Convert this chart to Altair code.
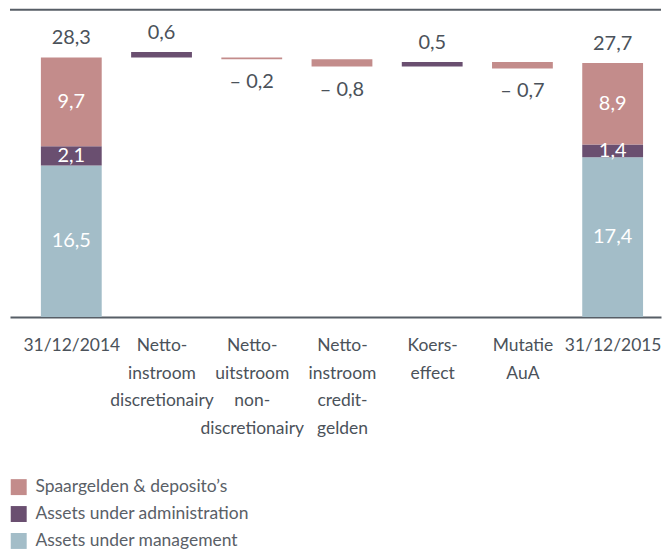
import json
import altair as alt
import pandas as pd

# ---- data ----
categories = [
    "31/12/2014",
    "Netto-\ninstroom\ndiscretionairy",
    "Netto-\nuitstroom\nnon-\ndiscretionairy",
    "Netto-\ninstroom\ncredit-\ngelden",
    "Koers-\neffect",
    "Mutatie\nAuA",
    "31/12/2015",
]
series = ["Spaargelden & deposito’s", "Assets under administration", "Assets under management"]
colors = ["#c38c8b", "#6a4f70", "#a3bdc8"]

start_2014 = [9.7, 2.1, 16.5]   # spaargelden, AuA, AuM
end_2015 = [8.9, 1.4, 17.4]
totals = [28.3, 27.7]
step_deltas = [0.6, -0.2, -0.8, 0.5, -0.7]
step_series = [1, 0, 0, 1, 0]
step_starts = [28.3, 28.3, 28.1, 27.3, 27.8]


def fmt(v):
    s = f"{abs(v):.1f}".replace(".", ",")
    return ("– " + s) if v < 0 else s


seg_rows = []
inner_rows = []
for idx, vals in ((0, start_2014), (6, end_2015)):
    lo = 0.0
    for si in (2, 1, 0):
        hi = lo + vals[si]
        seg_rows.append(dict(idx=idx, series=series[si], lo=lo, hi=hi))
        inner_rows.append(dict(idx=idx, mid=(lo + hi) / 2, text=fmt(vals[si])))
        lo = hi

above_rows = [dict(idx=0, y=totals[0], text=fmt(totals[0])),
              dict(idx=6, y=totals[1], text=fmt(totals[1]))]
below_rows = []
for k, (d, s, st) in enumerate(zip(step_deltas, step_series, step_starts)):
    seg_rows.append(dict(idx=k + 1, series=series[s], lo=st, hi=st + d))
    if d >= 0:
        above_rows.append(dict(idx=k + 1, y=st + d, text=fmt(d)))
    else:
        below_rows.append(dict(idx=k + 1, y=st + d, text=fmt(d)))

segs = pd.DataFrame(seg_rows)
inner = pd.DataFrame(inner_rows)
above = pd.DataFrame(above_rows)
below = pd.DataFrame(below_rows)

W = 653
H = 309
step = 90.5
d0 = -61.5 / step
d1 = d0 + W / step

FONT = "Lato"
TEXT = "#4b525a"
LINE = "#575e66"

label_lists = json.dumps([c.split("\n") for c in categories], ensure_ascii=False)

xscale = alt.Scale(domain=[d0, d1], nice=False, zero=False, padding=0)
yscale = alt.Scale(domain=[0, 33.6], nice=False, zero=True, padding=0)

x_axis = alt.Axis(
    values=list(range(len(categories))),
    labelExpr=f"{label_lists}[datum.value]",
    title=None, grid=False, ticks=False,
    domainColor=LINE, domainWidth=2,
    labelFont=FONT, labelFontSize=17.5, labelColor=TEXT,
    labelLineHeight=27.5, labelPadding=20,
    labelOverlap=False, labelFlush=False, labelBound=False,
)

bars = alt.Chart(segs).mark_bar(size=61).encode(
    x=alt.X("idx:Q", scale=xscale, axis=x_axis),
    y=alt.Y("lo:Q", scale=yscale, axis=None),
    y2="hi:Q",
    color=alt.Color(
        "series:N",
        scale=alt.Scale(domain=series, range=colors),
        legend=alt.Legend(
            title=None, orient="none", legendX=0, legendY=471,
            symbolType="square", symbolSize=256, symbolStrokeWidth=0,
            symbolOpacity=1, labelFont=FONT, labelFontSize=17.5,
            labelColor="#5a6067", labelOffset=8, rowPadding=8, padding=0,
            labelLimit=0,
        ),
    ),
)

inner_text = alt.Chart(inner).mark_text(
    font=FONT, fontSize=20, color="white", baseline="middle", align="center"
).encode(x="idx:Q", y="mid:Q", text="text:N")

above_text = alt.Chart(above).mark_text(
    font=FONT, fontSize=20, color=TEXT, baseline="alphabetic", align="center", dy=-13
).encode(x="idx:Q", y="y:Q", text="text:N")

below_text = alt.Chart(below).mark_text(
    font=FONT, fontSize=20, color=TEXT, baseline="alphabetic", align="center", dy=29
).encode(x="idx:Q", y="y:Q", text="text:N")

top_line = alt.Chart(pd.DataFrame({"k": [0]})).mark_rule(
    color=LINE, strokeWidth=2
).encode(x=alt.value(0), x2=alt.value(W), y=alt.value(1))

chart = alt.layer(top_line, bars, inner_text, above_text, below_text).properties(
    width=W, height=H,
    padding={"left": 1, "top": 0, "right": 0, "bottom": 0},
).configure_view(stroke=None)

chart.save("out.html", embed_options={"renderer": "svg", "actions": False})
